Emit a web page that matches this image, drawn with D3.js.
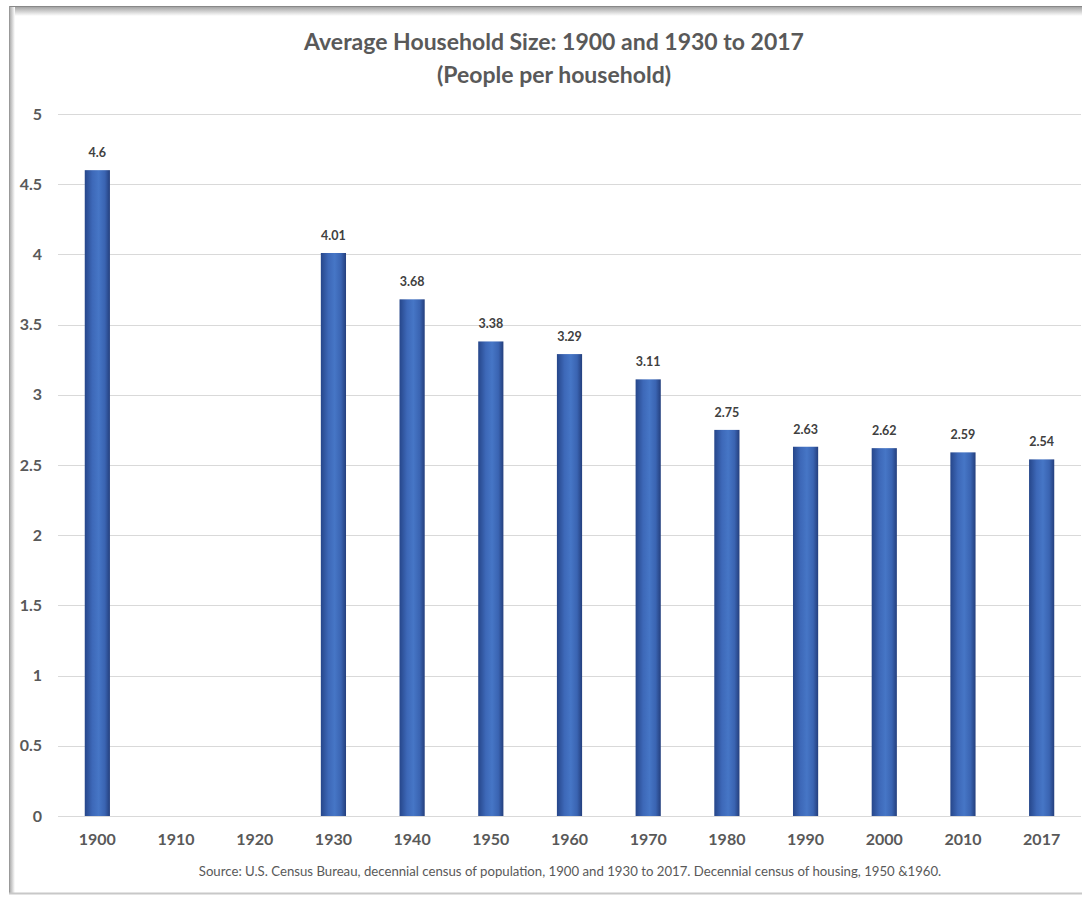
<!DOCTYPE html>
<html>
<head>
<meta charset="utf-8">
<script src="https://cdn.jsdelivr.net/npm/d3@7"></script>
<style>
  body { margin: 0; background: #fff; }
  svg text { font-family: Lato, "Open Sans", sans-serif; }
</style>
</head>
<body>
<div id="chart"></div>
<script>
// data
const years = ["1900", "1910", "1920", "1930", "1940", "1950", "1960", "1970", "1980", "1990", "2000", "2010", "2017"];
const sizes = [4.6, null, null, 4.01, 3.68, 3.38, 3.29, 3.11, 2.75, 2.63, 2.62, 2.59, 2.54];
const yTicks = [0, 0.5, 1, 1.5, 2, 2.5, 3, 3.5, 4, 4.5, 5];
const titleLines = ["Average Household Size: 1900 and 1930 to 2017", "(People per household)"];
const sourceNote = "Source: U.S. Census Bureau, decennial census of population, 1900 and 1930 to 2017. Decennial census of housing, 1950 &1960.";

const width = 1082, height = 897;
const data = years.map((y, i) => ({ year: y, value: sizes[i] }));

const svg = d3.select("#chart").append("svg")
    .attr("width", width)
    .attr("height", height);

// bar gradient, darker at the edges
const defs = svg.append("defs");
const grad = defs.append("linearGradient")
    .attr("id", "barGrad")
    .attr("x1", "0%").attr("x2", "100%").attr("y1", "0%").attr("y2", "0%");
grad.append("stop").attr("offset", "0%").attr("stop-color", "#26468a");
grad.append("stop").attr("offset", "30%").attr("stop-color", "#3d68b8");
grad.append("stop").attr("offset", "55%").attr("stop-color", "#4676c6");
grad.append("stop").attr("offset", "80%").attr("stop-color", "#3a64b2");
grad.append("stop").attr("offset", "100%").attr("stop-color", "#243f7d");

const topShade = defs.append("linearGradient")
    .attr("id", "topShade")
    .attr("x1", "0%").attr("x2", "0%").attr("y1", "0%").attr("y2", "100%");
topShade.append("stop").attr("offset", "0%").attr("stop-color", "#9a9a9a");
topShade.append("stop").attr("offset", "100%").attr("stop-color", "#ffffff");

const leftShade = defs.append("linearGradient")
    .attr("id", "leftShade")
    .attr("x1", "0%").attr("x2", "100%").attr("y1", "0%").attr("y2", "0%");
leftShade.append("stop").attr("offset", "0%").attr("stop-color", "#a0a0a0");
leftShade.append("stop").attr("offset", "100%").attr("stop-color", "#ffffff");

// frame around the chart (screenshot border)
svg.append("rect").attr("x", 9).attr("y", 6).attr("width", width).attr("height", 10).attr("fill", "url(#topShade)");
svg.append("rect").attr("x", 9).attr("y", 6).attr("width", 6).attr("height", 888).attr("fill", "url(#leftShade)");
svg.append("line").attr("x1", 9).attr("x2", width).attr("y1", 6.5).attr("y2", 6.5).attr("stroke", "#888").attr("stroke-width", 1);
svg.append("line").attr("x1", 9.5).attr("x2", 9.5).attr("y1", 6).attr("y2", 894).attr("stroke", "#999").attr("stroke-width", 1);
svg.append("line").attr("x1", 9).attr("x2", width).attr("y1", 893.5).attr("y2", 893.5).attr("stroke", "#c8c8c8").attr("stroke-width", 2);

const margin = { left: 58, right: 1, top: 114, bottom: 81 };

const x = d3.scaleBand()
    .domain(years)
    .range([margin.left, width - margin.right])
    .paddingInner(0.68)
    .paddingOuter(0.34);

const y = d3.scaleLinear()
    .domain([0, 5])
    .range([height - margin.bottom, margin.top]);

// gridlines
svg.append("g")
    .selectAll("line")
    .data(yTicks)
    .join("line")
    .attr("x1", margin.left)
    .attr("x2", width - margin.right)
    .attr("y1", d => Math.round(y(d)) + 0.5)
    .attr("y2", d => Math.round(y(d)) + 0.5)
    .attr("stroke", "#d9d9d9")
    .attr("stroke-width", 1);

// y axis labels
const yAxis = d3.axisLeft(y).tickValues(yTicks).tickSize(0).tickPadding(0).tickFormat(d3.format("~g"));
svg.append("g")
    .attr("transform", `translate(42,0)`)
    .call(yAxis)
    .call(g => g.select(".domain").remove())
    .selectAll("text")
    .attr("fill", "#595959")
    .attr("font-size", "16px")
    .attr("font-weight", "bold")
    .attr("font-family", "Lato, sans-serif");

// x axis labels
const xAxis = d3.axisBottom(x).tickSize(0).tickPadding(0);
svg.append("g")
    .attr("transform", `translate(0,${y(0) + 18})`)
    .call(xAxis)
    .call(g => g.select(".domain").remove())
    .selectAll("text")
    .attr("fill", "#595959")
    .attr("font-size", "16px")
    .attr("font-weight", "bold")
    .attr("font-family", "Lato, sans-serif");

// bars
const bars = data.filter(d => d.value != null);
svg.append("g")
    .selectAll("rect")
    .data(bars)
    .join("rect")
    .attr("x", d => x(d.year))
    .attr("y", d => y(d.value))
    .attr("width", x.bandwidth())
    .attr("height", d => y(0) - y(d.value))
    .attr("fill", "url(#barGrad)");

// value labels
svg.append("g")
    .selectAll("text")
    .data(bars)
    .join("text")
    .attr("x", d => x(d.year) + x.bandwidth() / 2)
    .attr("y", d => y(d.value) - 13)
    .attr("text-anchor", "middle")
    .attr("fill", "#404040")
    .attr("font-size", "12.5px")
    .attr("font-weight", "bold")
    .text(d => d.value);

// title
svg.append("g")
    .selectAll("text")
    .data(titleLines)
    .join("text")
    .attr("x", 554)
    .attr("y", (d, i) => 50 + i * 33)
    .attr("text-anchor", "middle")
    .attr("fill", "#595959")
    .attr("font-size", "23px")
    .attr("font-weight", "bold")
    .text(d => d);

// source note
svg.append("text")
    .attr("x", 570)
    .attr("y", 876)
    .attr("text-anchor", "middle")
    .attr("fill", "#595959")
    .attr("font-size", "13.2px")
    .text(sourceNote);
</script>
</body>
</html>
